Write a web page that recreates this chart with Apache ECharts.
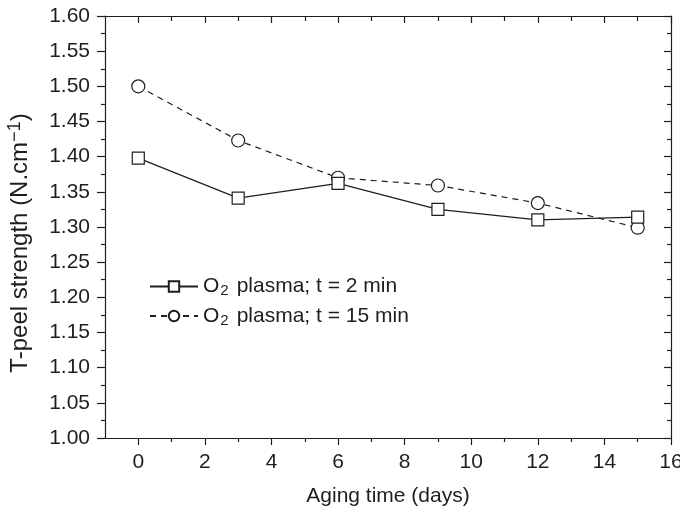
<!DOCTYPE html>
<html>
<head>
<meta charset="utf-8">
<script src="https://cdn.jsdelivr.net/npm/echarts@6/dist/echarts.min.js"></script>
<style>
  html, body { margin: 0; padding: 0; background: #fff; }
  #chart { width: 680px; height: 513px; }
</style>
</head>
<body>
<div id="chart"></div>
<script>
// data
var days = [0, 3, 6, 9, 12, 15]
var peel2min = [1.398, 1.341, 1.362, 1.325, 1.310, 1.314]
var peel15min = [1.500, 1.423, 1.370, 1.359, 1.334, 1.299]
var xTickLabels = [0, 2, 4, 6, 8, 10, 12, 14, 16]
var xMinorTicks = [1, 3, 5, 7, 9, 11, 13, 15]

var ink = '#1e1e1e'
var font = "'Liberation Sans', Arial, sans-serif"
var fs = 21

function pairs(xs, ys) {
    return xs.map(function (x, i) { return [x, ys[i]] })
}

var myChart = echarts.init(document.getElementById('chart'))

var xBase = {
    type: 'value', min: -1, max: 16, gridIndex: 0,
    splitLine: { show: false }
}

myChart.setOption({
    animation: false,
    backgroundColor: '#fff',
    textStyle: { fontFamily: font, color: ink },
    grid: { left: 105, right: 9, top: 16, bottom: 75, containLabel: false, outerBoundsMode: 'none' },
    legend: {
        orient: 'vertical', left: 144, top: 271, itemWidth: 48, itemHeight: 13, itemGap: 7,
        textStyle: {
            fontSize: fs, color: ink, fontFamily: font,
            rich: {
                a: { fontSize: fs, color: ink, fontFamily: font },
                s: { fontSize: 15, color: ink, fontFamily: font, verticalAlign: 'bottom', padding: [9, 8, 0, 1] }
            }
        },
        formatter: function (name) {
            return name === 'a' ? '{a|O}{s|2}{a|plasma; t = 2 min}' : '{a|O}{s|2}{a|plasma; t = 15 min}'
        },
        data: ['a', 'b']
    },
    xAxis: [
        Object.assign({}, xBase, {
            position: 'bottom',
            name: 'Aging time (days)', nameLocation: 'middle', nameGap: 48,
            nameTextStyle: { fontSize: fs, color: ink, fontFamily: font },
            axisLine: { onZero: false, lineStyle: { color: ink, width: 1.2 } },
            axisTick: { customValues: xTickLabels, length: 7, inside: false, lineStyle: { color: ink, width: 1.2 } },
            axisLabel: { customValues: xTickLabels, fontSize: fs, color: ink, margin: 14, fontFamily: font }
        }),
        Object.assign({}, xBase, {
            position: 'bottom',
            axisLine: { show: false, onZero: false },
            axisTick: { customValues: xMinorTicks, length: 4, inside: false, lineStyle: { color: ink, width: 1.2 } },
            axisLabel: { show: false }
        }),
        Object.assign({}, xBase, {
            position: 'top',
            axisLine: { onZero: false, lineStyle: { color: ink, width: 1.2 } },
            axisTick: { customValues: xTickLabels, length: 7, inside: true, lineStyle: { color: ink, width: 1.2 } },
            axisLabel: { show: false }
        }),
        Object.assign({}, xBase, {
            position: 'top',
            axisLine: { show: false, onZero: false },
            axisTick: { customValues: xMinorTicks, length: 5, inside: true, lineStyle: { color: ink, width: 1.2 } },
            axisLabel: { show: false }
        })
    ],
    yAxis: [
        {
            type: 'value', min: 1.0, max: 1.6, interval: 0.05, position: 'left',
            name: '{a|T-peel strength (N.cm}{s|−1}{a|)}',
            nameLocation: 'middle', nameGap: 71,
            nameTextStyle: {
                fontSize: 24, color: ink, fontFamily: font, padding: [0, 32, 0, 0],
                rich: {
                    a: { fontSize: 24, color: ink, fontFamily: font },
                    s: { fontSize: 18, color: ink, fontFamily: font, verticalAlign: 'top', padding: [0, 0, 10, 0] }
                }
            },
            axisLine: { show: true, onZero: false, lineStyle: { color: ink, width: 1.2 } },
            axisTick: { show: true, length: 8, lineStyle: { color: ink, width: 1.2 } },
            minorTick: { show: true, splitNumber: 2, length: 4, lineStyle: { color: ink, width: 1.2 } },
            axisLabel: { fontSize: fs, color: ink, margin: 15, fontFamily: font,
                formatter: function (v) { return v.toFixed(2) } },
            splitLine: { show: false }
        },
        {
            type: 'value', min: 1.0, max: 1.6, interval: 0.05, position: 'right',
            axisLine: { show: true, onZero: false, lineStyle: { color: ink, width: 1.2 } },
            axisTick: { show: true, inside: true, length: 7, lineStyle: { color: ink, width: 1.2 } },
            minorTick: { show: true, splitNumber: 2, length: 4, lineStyle: { color: ink, width: 1.2 } },
            axisLabel: { show: false },
            splitLine: { show: false }
        }
    ],
    series: [
        {
            name: 'a', type: 'line', xAxisIndex: 0, yAxisIndex: 0,
            data: pairs(days, peel2min),
            symbol: 'rect', symbolSize: 12,
            lineStyle: { color: ink, width: 1.2 },
            itemStyle: { color: '#fff', borderColor: ink, borderWidth: 1.2 },
            z: 3
        },
        {
            name: 'b', type: 'line', xAxisIndex: 0, yAxisIndex: 0,
            data: pairs(days, peel15min),
            symbol: 'circle', symbolSize: 13,
            lineStyle: { color: ink, width: 1.2, type: [6, 5] },
            itemStyle: { color: '#fff', borderColor: ink, borderWidth: 1.2 },
            z: 2
        }
    ]
})
</script>
</body>
</html>
